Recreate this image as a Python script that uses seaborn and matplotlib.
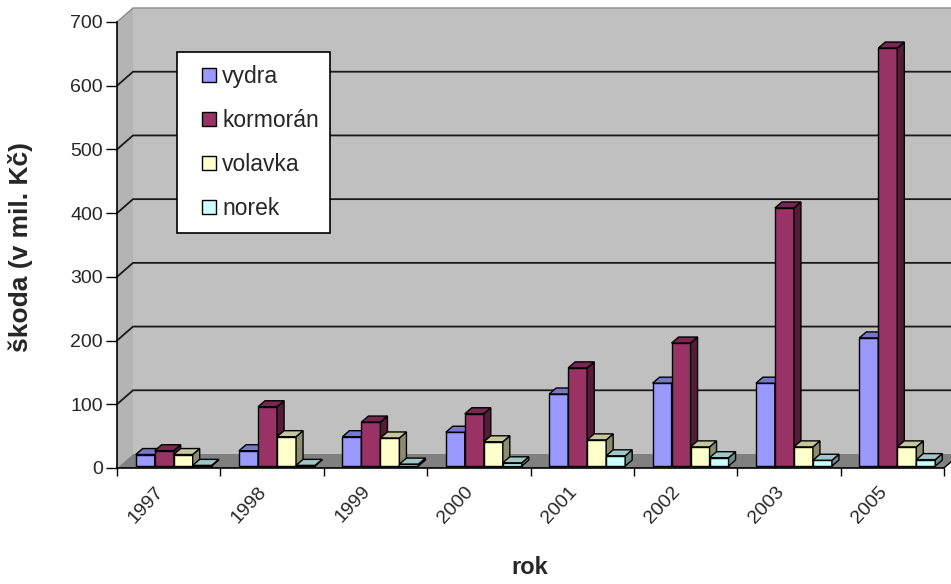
import numpy as np
import pandas as pd
import seaborn as sns
import matplotlib
matplotlib.use("Agg")
import matplotlib.pyplot as plt
from matplotlib.patches import Polygon, Patch, Rectangle
from matplotlib.transforms import ScaledTranslation
from matplotlib.colors import to_rgb

# --- data -------------------------------------------------------------
years = ["1997", "1998", "1999", "2000", "2001", "2002", "2003", "2005"]
species = ["vydra", "kormorán", "volavka", "norek"]
vydra = [18, 24, 46, 53, 113, 130, 130, 201]
kormoran = [24, 93, 69, 82, 154, 193, 405, 656]
volavka = [18, 46, 44, 38, 41, 30, 30, 30]
norek = [1, 1, 3, 5, 16, 13, 9, 10]
y_ticks = [0, 100, 200, 300, 400, 500, 600, 700]

colors = ["#9999FF", "#993366", "#FFFFCC", "#CCFFFF"]

series = [vydra, kormoran, volavka, norek]
df = pd.DataFrame({
    "rok": [y for s in series for y in years],
    "druh": [sp for sp, s in zip(species, series) for _ in s],
    "škoda": [v for s in series for v in s],
})

# --- figure / styling ---------------------------------------------------
sns.set_theme(style="white")
plt.rcParams["font.family"] = ["Liberation Sans", "DejaVu Sans"]

W, H = 951, 584
fig = plt.figure(figsize=(W / 100, H / 100), dpi=100)
fig.patch.set_facecolor("white")

# front plane of the pseudo-3D box (pixel edges)
L, R, T, B = 117, 944, 22, 468
ax = fig.add_axes([L / W, 1 - B / H, (R - L) / W, (B - T) / H])
ax.set_facecolor("none")

sns.barplot(data=df, x="rok", y="škoda", hue="druh", hue_order=species,
            palette=colors, saturation=1, width=0.735, errorbar=None,
            edgecolor="black", linewidth=1, legend=False, ax=ax, zorder=3)

ax.set_xlim(-0.5, len(years) - 0.5)
ax.set_ylim(y_ticks[0], y_ticks[-1])
ax.set_autoscale_on(False)

WALL_DX, WALL_DY = 16, 14      # depth of walls / floor in pixels
BAR_DX, BAR_DY = 7, 6          # depth of a single column
BAR_SHIFT = (5, 2)             # columns stand a little behind the front plane

to_fig = fig.transFigure.inverted()
yax = ax.get_yaxis_transform()


def fig_pts(disp):
    return to_fig.transform(np.asarray(disp, dtype=float))


def add_poly(disp, **kw):
    p = Polygon(fig_pts(disp), closed=True, transform=fig.transFigure,
                clip_on=False, **kw)
    ax.add_patch(p)
    return p


# walls and floor
fl = yax.transform([(0, y_ticks[0])])[0]
fr = yax.transform([(1, y_ticks[0])])[0]
tl = yax.transform([(0, y_ticks[-1])])[0]
tr = yax.transform([(1, y_ticks[-1])])[0]
off = np.array([WALL_DX, WALL_DY])
ext = np.array([40, 0])

# back wall
add_poly([fl + off, fr + off + ext, tr + off + ext, tl + off],
         facecolor="#C0C0C0", edgecolor="none", zorder=0)
# side wall
add_poly([fl, fl + off, tl + off, tl], facecolor="#B4B4B4",
         edgecolor="none", zorder=0.1)
# floor
add_poly([fl, fr, fr + off, fl + off], facecolor="#808080",
         edgecolor="none", zorder=0.2)
# outline of the walls' top edge
ax.plot(*fig_pts([tl, tl + off, tr + off + ext]).T, transform=fig.transFigure,
        color="#8C8C8C", lw=1, clip_on=False, zorder=0.3)
# floor right edge
ax.plot(*fig_pts([fr, fr + off]).T, transform=fig.transFigure,
        color="black", lw=1, clip_on=False, zorder=0.3)

# gridlines: diagonal on the side wall, horizontal on the back wall
for v in y_ticks[1:-1]:
    a = yax.transform([(0, v)])[0]
    b = yax.transform([(1, v)])[0]
    ax.plot(*fig_pts([a, a + off, b + off + ext]).T, transform=fig.transFigure,
            color="#1A1A1A", lw=1.3, clip_on=False, zorder=0.5)

# columns with top and side faces
shift_tr = ScaledTranslation(BAR_SHIFT[0] / 100, BAR_SHIFT[1] / 100,
                             fig.dpi_scale_trans)
for k, cont in enumerate(ax.containers):
    z = 3 + 0.1 * k
    for bar in cont:
        x0, w, h = bar.get_x(), bar.get_width(), bar.get_height()
        (px0, py0), (px1, py1) = ax.transData.transform([(x0, 0), (x0 + w, h)]) + np.array(BAR_SHIFT)
        bar.set_transform(ax.transData + shift_tr)
        bar.set_zorder(z)
        bar.set_clip_on(False)
        base = np.array(to_rgb(bar.get_facecolor()))
        side = [(px1, py0), (px1, py1), (px1 + BAR_DX, py1 + BAR_DY), (px1 + BAR_DX, py0 + BAR_DY)]
        top = [(px0, py1), (px1, py1), (px1 + BAR_DX, py1 + BAR_DY), (px0 + BAR_DX, py1 + BAR_DY)]
        add_poly(side, facecolor=base * 0.55, edgecolor="black", lw=1, zorder=z)
        add_poly(top, facecolor=base * 0.78, edgecolor="black", lw=1, zorder=z)

# axes, ticks
for s in ["top", "right"]:
    ax.spines[s].set_visible(False)
for s in ["left", "bottom"]:
    ax.spines[s].set_color("black")
    ax.spines[s].set_linewidth(1.2)
    ax.spines[s].set_zorder(2)

ax.set_yticks(y_ticks)
ax.set_yticklabels([str(v) for v in y_ticks])
ax.tick_params(axis="y", direction="out", length=8, width=1, color="black",
               labelsize=14, pad=2, left=True)

ax.set_xticks(range(len(years)))
ax.set_xticklabels(years)
ax.set_xticks(np.arange(-0.5, len(years), 1), minor=True)
ax.tick_params(axis="x", which="major", length=0, labelsize=14, pad=15)
ax.tick_params(axis="x", which="minor", direction="out", length=6, width=1,
               color="black", bottom=True)
lbl_shift = ScaledTranslation(-8 / 100, 0, fig.dpi_scale_trans)
for lbl in ax.get_xticklabels():
    lbl.set_rotation(47)
    lbl.set_ha("right")
    lbl.set_va("center")
    lbl.set_rotation_mode("anchor")
    lbl.set_transform(lbl.get_transform() + lbl_shift)

ax.set_xlabel("")
ax.set_ylabel("")
ax.grid(False)

fig.text(21 / W, 1 - 247 / H, "škoda (v mil. Kč)", rotation=90,
         ha="center", va="center", fontsize=19, fontweight="bold")
fig.text(530 / W, 1 - 568 / H, "rok", ha="center", va="center",
         fontsize=17, fontweight="bold")

# legend: white framed box with the entries inside
frame = Rectangle((177 / W, 1 - 233 / H), (330 - 177) / W, (233 - 52) / H,
                  transform=fig.transFigure, facecolor="white",
                  edgecolor="black", lw=1.2, clip_on=False, zorder=9)
ax.add_patch(frame)
handles = [Patch(facecolor=cont[0].get_facecolor(), edgecolor="black", linewidth=1)
           for cont in ax.containers]
leg = ax.legend(handles, species, loc="upper left",
                bbox_to_anchor=(202 / W, 1 - 65 / H), bbox_transform=fig.transFigure,
                frameon=False, fontsize=16.5, handlelength=0.6, handleheight=0.6,
                handletextpad=0.28, labelspacing=0.92, borderpad=0,
                borderaxespad=0)
leg.set_zorder(10)

fig.savefig("out.png", dpi=100)
